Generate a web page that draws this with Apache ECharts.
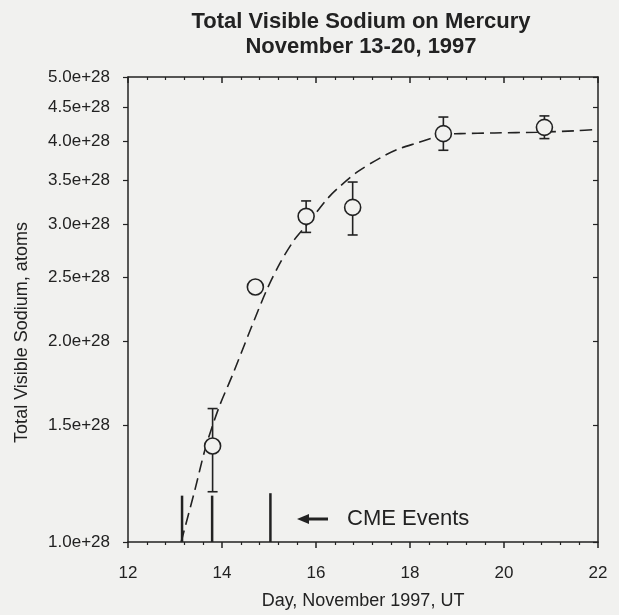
<!DOCTYPE html>
<html>
<head>
    <meta charset="utf-8" />
    <title>Total Visible Sodium on Mercury</title>
    <script src="https://cdn.jsdelivr.net/npm/echarts@6.0.0/dist/echarts.min.js"></script>
    <style>
        html, body { margin: 0; padding: 0; background: #f1f1ef; }
    </style>
</head>
<body>
    <div id="main" style="width: 619px;height: 615px;"></div>
    <script type="text/javascript">
        // measured points (day of Nov 1997, atoms)
        var obsDays = [13.80, 14.71, 15.79, 16.78, 18.71, 20.86];
        var obsValues = [1.394e28, 2.417e28, 3.087e28, 3.184e28, 4.11e28, 4.20e28];
        var errLow = [1.19e28, null, 2.92e28, 2.894e28, 3.88e28, 4.04e28];
        var errHigh = [1.587e28, null, 3.256e28, 3.476e28, 4.353e28, 4.37e28];

        // dashed model curve
        var fitDays = [13.13, 13.42, 13.65, 13.93, 14.22, 14.61, 14.96, 15.24, 15.53, 15.81,
            16.24, 16.52, 16.88, 17.37, 17.73, 18.15, 18.44, 18.69, 19.07, 19.8, 20.71, 21.5, 22.0];
        var fitValues = [1.00e28, 1.195e28, 1.386e28, 1.59e28, 1.78e28, 2.09e28, 2.40e28, 2.63e28, 2.84e28, 3.00e28,
            3.28e28, 3.43e28, 3.60e28, 3.78e28, 3.89e28, 3.98e28, 4.04e28, 4.10e28, 4.11e28, 4.12e28, 4.13e28, 4.15e28, 4.17e28];

        // CME event markers
        var cmeDays = [13.15, 13.79, 15.03];
        var cmeTops = [1.174e28, 1.174e28, 1.184e28];

        var yTicks = [1.0e28, 1.5e28, 2.0e28, 2.5e28, 3.0e28, 3.5e28, 4.0e28, 4.5e28, 5.0e28];

        var ink = '#222';
        var myChart = echarts.init(document.getElementById('main'));

        var obsData = obsDays.map(function (d, i) { return [d, obsValues[i]]; });
        var fitData = fitDays.map(function (d, i) { return [d, fitValues[i]]; });
        var errData = [];
        obsDays.forEach(function (d, i) {
            if (errLow[i] != null) errData.push([d, errLow[i], errHigh[i]]);
        });
        var cmeData = cmeDays.map(function (d, i) { return [d, 1.0e28, cmeTops[i]]; });

        function fmtY(v) {
            return (v / 1e28).toFixed(1) + 'e+28';
        }

        var xBase = {
            type: 'value', min: 12, max: 22, interval: 2,
            axisLine: { lineStyle: { color: ink, width: 1.5 } },
            splitLine: { show: false },
            minorTick: { show: true, splitNumber: 5, length: 3, lineStyle: { color: ink, width: 1.2 } },
            axisTick: { length: 6, lineStyle: { color: ink, width: 1.5 } }
        };
        var yBase = {
            type: 'log', logBase: 10, min: 1.0e28, max: 5.0e28,
            axisLine: { lineStyle: { color: ink, width: 1.5 } },
            splitLine: { show: false },
            axisTick: { length: 5, customValues: yTicks, lineStyle: { color: ink, width: 1.2 } }
        };

        var option = {
            backgroundColor: '#f1f1ef',
            animation: false,
            title: {
                text: 'Total Visible Sodium on Mercury\nNovember 13-20, 1997',
                left: 356, top: 4, textAlign: 'center',
                textStyle: { fontFamily: 'Liberation Sans', fontSize: 22, fontWeight: 'bold', color: ink, lineHeight: 25 }
            },
            grid: { left: 128, right: 21, top: 77, bottom: 70 },
            xAxis: [
                Object.assign({}, xBase, {
                    position: 'bottom',
                    name: 'Day, November 1997, UT', nameLocation: 'middle', nameGap: 50,
                    nameTextStyle: { fontFamily: 'Liberation Sans', fontSize: 18, color: ink },
                    axisLabel: { fontFamily: 'Liberation Sans', fontSize: 17, color: ink, margin: 23 }
                }),
                Object.assign({}, xBase, {
                    position: 'top',
                    axisTick: { inside: true, length: 6, lineStyle: { color: ink, width: 1.5 } },
                    minorTick: { show: true, splitNumber: 5, length: 3, lineStyle: { color: ink, width: 1.2 } },
                    axisLabel: { show: false }
                })
            ],
            yAxis: [
                Object.assign({}, yBase, {
                    position: 'left',
                    name: 'Total Visible Sodium, atoms', nameLocation: 'middle', nameGap: 97,
                    nameTextStyle: { fontFamily: 'Liberation Sans', fontSize: 18, color: ink, padding: [0, 46, 0, 0] },
                    axisLabel: {
                        customValues: yTicks, formatter: fmtY, margin: 18,
                        fontFamily: 'Liberation Sans', fontSize: 17, color: ink
                    }
                }),
                Object.assign({}, yBase, {
                    position: 'right',
                    axisTick: { inside: true, length: 5, customValues: yTicks, lineStyle: { color: ink, width: 1.2 } },
                    axisLabel: { show: false }
                })
            ],
            graphic: [
                {
                    type: 'polygon', z: 10,
                    shape: { points: [[297, 519], [309, 514], [309, 524]] },
                    style: { fill: ink }
                },
                {
                    type: 'line', z: 10,
                    shape: { x1: 306, y1: 519, x2: 328, y2: 519 },
                    style: { stroke: ink, lineWidth: 3 }
                },
                {
                    type: 'text', z: 10, x: 347, y: 519,
                    style: {
                        text: 'CME Events', fill: ink, verticalAlign: 'middle',
                        font: '22px "Liberation Sans"'
                    }
                }
            ],
            series: [
                {
                    name: 'fit', type: 'line', data: fitData,
                    smooth: 0.3, showSymbol: false, z: 1,
                    lineStyle: { color: ink, width: 1.6, type: [12, 6] }
                },
                {
                    name: 'cme', type: 'custom', data: cmeData, z: 2,
                    renderItem: function (params, api) {
                        var p0 = api.coord([api.value(0), api.value(1)]);
                        var p1 = api.coord([api.value(0), api.value(2)]);
                        return {
                            type: 'line',
                            shape: { x1: p0[0], y1: p0[1], x2: p1[0], y2: p1[1] },
                            style: { stroke: ink, lineWidth: 2.5 }
                        };
                    }
                },
                {
                    name: 'error', type: 'custom', data: errData, z: 3,
                    renderItem: function (params, api) {
                        var lo = api.coord([api.value(0), api.value(1)]);
                        var hi = api.coord([api.value(0), api.value(2)]);
                        var cap = 5;
                        var st = { stroke: ink, lineWidth: 1.6 };
                        return {
                            type: 'group',
                            children: [
                                { type: 'line', shape: { x1: lo[0], y1: lo[1], x2: hi[0], y2: hi[1] }, style: st },
                                { type: 'line', shape: { x1: lo[0] - cap, y1: lo[1], x2: lo[0] + cap, y2: lo[1] }, style: st },
                                { type: 'line', shape: { x1: hi[0] - cap, y1: hi[1], x2: hi[0] + cap, y2: hi[1] }, style: st }
                            ]
                        };
                    }
                },
                {
                    name: 'observed', type: 'scatter', data: obsData, z: 4,
                    symbol: 'circle', symbolSize: 16,
                    itemStyle: { color: '#f1f1ef', borderColor: ink, borderWidth: 1.6, opacity: 1 }
                }
            ]
        };

        myChart.setOption(option);
    </script>
</body>
</html>
